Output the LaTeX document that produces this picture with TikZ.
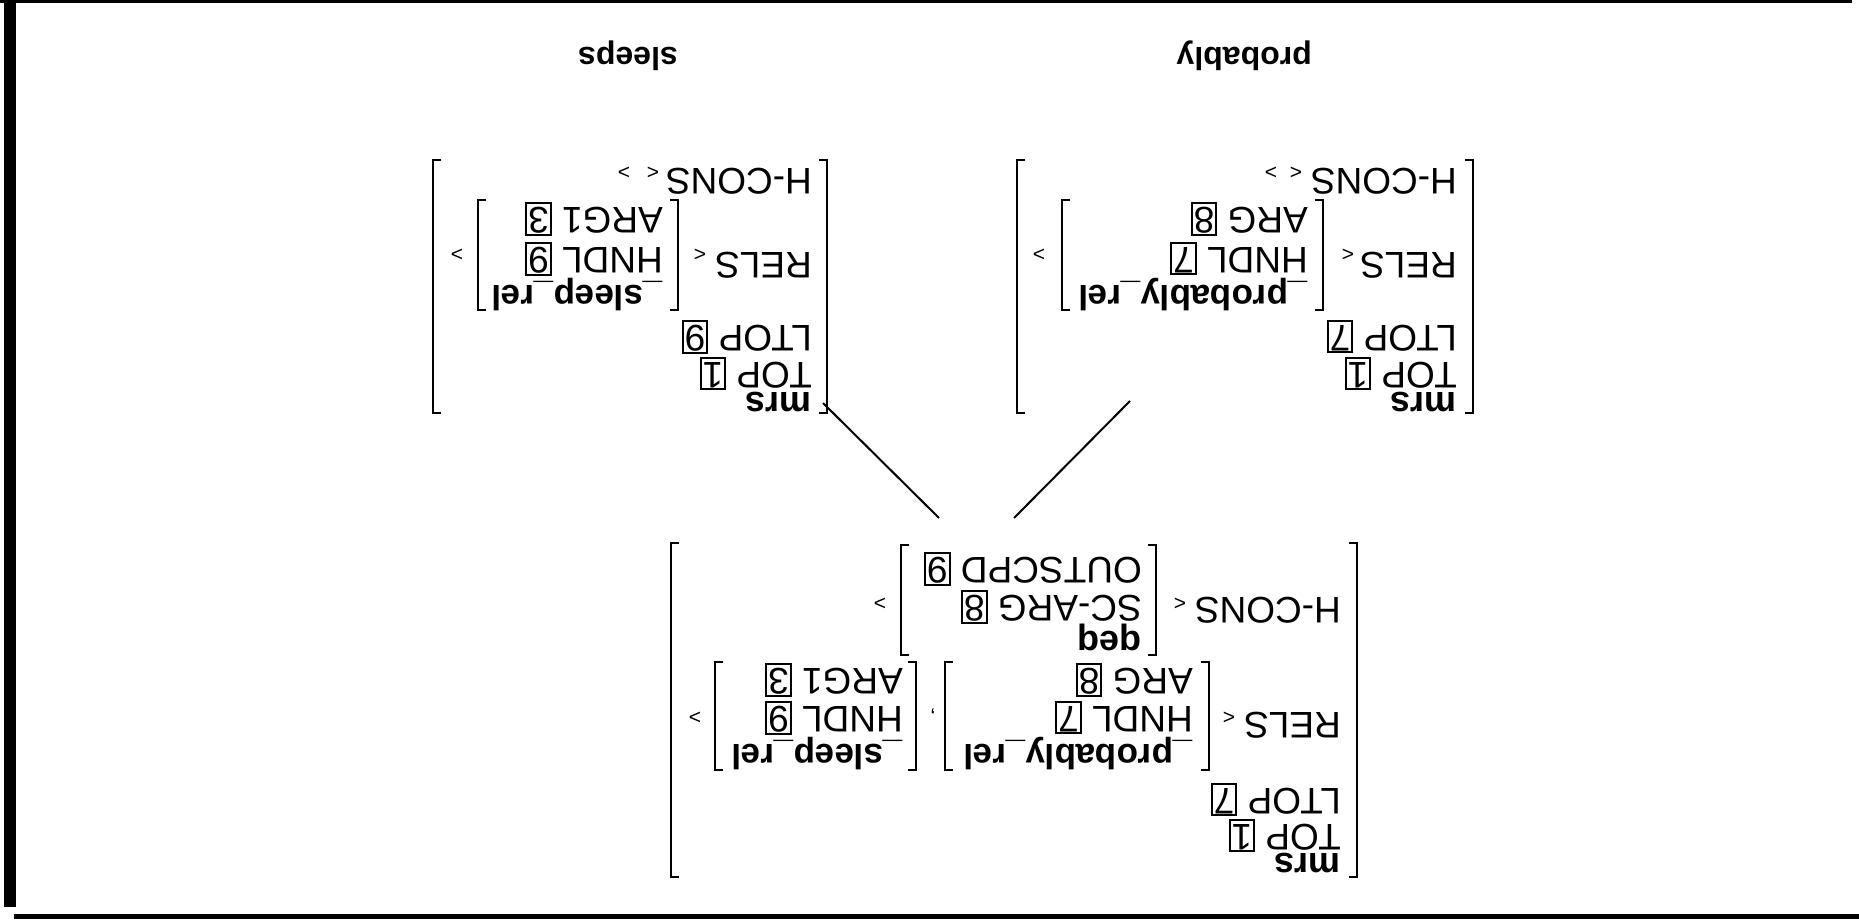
\documentclass[tikz,border=0pt]{standalone}
\usepackage{fontspec}
\setmainfont{Liberation Sans}
\setlength\fboxsep{1pt}
\setlength\fboxrule{2pt}
\newcommand\tagnum[1]{\fbox{\rule[-2pt]{0pt}{26pt}#1}}
\newcommand\lbrk[3]{\draw[brk] (#1+8,#2) -- (#1,#2) -- (#1,#3) -- (#1+8,#3);}
\newcommand\rbrk[3]{\draw[brk] (#1-8,#2) -- (#1,#2) -- (#1,#3) -- (#1-8,#3);}
\tikzset{
  t/.style={rotate=180, anchor=base west, inner sep=0pt, font=\fontsize{37}{37}\selectfont},
  tb/.style={t, font=\fontsize{36}{36}\selectfont\bfseries},
  ttype/.style={t, font=\fontsize{35}{35}\selectfont\bfseries},
  ang/.style={rotate=180, inner sep=0pt, font=\fontsize{21}{21}\selectfont},
  leaf/.style={rotate=180, anchor=base west, inner sep=0pt, font=\fontsize{32}{32}\selectfont\bfseries},
  brk/.style={line width=2.5pt},
  edgeline/.style={line width=2pt},
}
\begin{document}
\begin{tikzpicture}[x=1pt,y=-1pt]
\useasboundingbox (0,0) rectangle (1859,923);
% frame
\fill (0,0) rectangle (1852,3.3);
\fill (4,0) rectangle (16,907);
\fill (14,914) rectangle (1859,919);

% ===== mother AVM =====
\lbrk{671}{543}{877}
\rbrk{1357}{543}{877}
\node[tb] (m-mrs) at (1341,853) {mrs};
\node[t] (m-top) at (1341,824) {TOP \tagnum{1}};
\node[t] (m-ltop) at (1341,788) {LTOP \tagnum{7}};
\node[t] (m-rels) at (1341,712) {RELS};
\node[t] (m-hcons) at (1341,597) {H-CONS};
\node[ang] (m-ro) at (1229,717) {<};
\node[ang] (m-rc) at (695,717) {>};
\node[ang] (m-comma) at (933,711) {,};
\node[ang] (m-ho) at (1180,603) {<};
\node[ang] (m-hc) at (880,603) {>};
% qeq
\lbrk{901}{545}{655}
\rbrk{1156}{545}{655}
\node[t] (q-out) at (1142,557) {OUTSCPD \tagnum{9}};
\node[t] (q-sc) at (1142,595) {SC-ARG \tagnum{8}};
\node[tb] (q-type) at (1142,631) {qeq};
% probably_rel in mother
\lbrk{945}{662}{770}
\rbrk{1209}{662}{770}
\node[t] (mp-arg) at (1193,668) {ARG \tagnum{8}};
\node[t] (mp-hndl) at (1193,706) {HNDL \tagnum{7}};
\node[ttype] (mp-type) at (1193,744) {\_probably\_rel};
% sleep_rel in mother
\lbrk{715}{662}{770}
\rbrk{916}{662}{770}
\node[t] (ms-arg) at (903,668) {ARG1 \tagnum{3}};
\node[t] (ms-hndl) at (903,706) {HNDL \tagnum{9}};
\node[ttype] (ms-type) at (903,744) {\_sleep\_rel};

% ===== daughter: probably =====
\lbrk{1017}{160}{413}
\rbrk{1473}{160}{413}
\node[tb] (p-mrs) at (1457,392) {mrs};
\node[t] (p-top) at (1457,362) {TOP \tagnum{1}};
\node[t] (p-ltop) at (1457,325) {LTOP \tagnum{7}};
\node[t] (p-rels) at (1457,252) {RELS};
\node[t] (p-hcons) at (1457,168) {H-CONS};
\node[ang] (p-ho) at (1296,172) {<};
\node[ang] (p-hc) at (1271,172) {>};
\node[ang] (p-ro) at (1348,254) {<};
\node[ang] (p-rc) at (1039,254) {>};
\lbrk{1062}{200}{310}
\rbrk{1323}{200}{310}
\node[t] (p-arg) at (1308,207) {ARG \tagnum{8}};
\node[t] (p-hndl) at (1308,247) {HNDL \tagnum{7}};
\node[ttype] (p-type) at (1308,285) {\_probably\_rel};

% ===== daughter: sleeps =====
\lbrk{433}{160}{413}
\rbrk{827}{160}{413}
\node[tb] (s-mrs) at (812,392) {mrs};
\node[t] (s-top) at (812,362) {TOP \tagnum{1}};
\node[t] (s-ltop) at (812,325) {LTOP \tagnum{9}};
\node[t] (s-rels) at (812,252) {RELS};
\node[t] (s-hcons) at (812,168) {H-CONS};
\node[ang] (s-ho) at (653,172) {<};
\node[ang] (s-hc) at (624,172) {>};
\node[ang] (s-ro) at (700,254) {<};
\node[ang] (s-rc) at (457,254) {>};
\lbrk{478}{200}{310}
\rbrk{678}{200}{310}
\node[t] (s-arg) at (663,207) {ARG1 \tagnum{3}};
\node[t] (s-hndl) at (663,247) {HNDL \tagnum{9}};
\node[ttype] (s-type) at (663,285) {\_sleep\_rel};

% ===== leaves =====
\node[leaf] (w-prob) at (1312,48) {probably};
\node[leaf] (w-sleeps) at (678,48) {sleeps};

% ===== connectors =====
\coordinate (c-ml) at (939,518);
\coordinate (c-mr) at (1014,518);
\coordinate (c-s) at (823,403);
\coordinate (c-p) at (1130,401);
\draw[edgeline] (c-ml) -- (c-s);
\draw[edgeline] (c-mr) -- (c-p);
\end{tikzpicture}
\end{document}
